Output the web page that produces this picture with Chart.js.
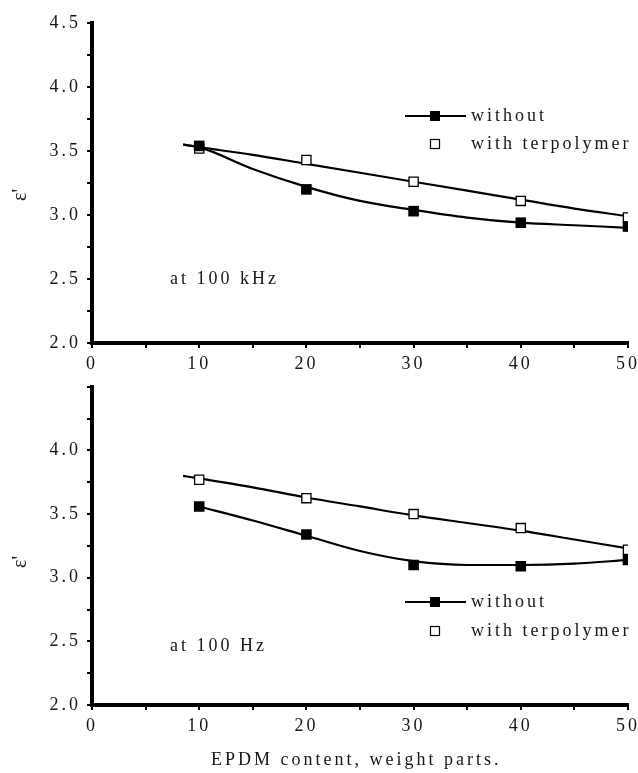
<!DOCTYPE html>
<html>
<head>
<meta charset="utf-8">
<script src="https://cdn.jsdelivr.net/npm/chart.js@4.4.1/dist/chart.umd.min.js"></script>
<style>
  body { margin: 0; background: #fff; }
  #wrap { position: relative; width: 638px; height: 773px; overflow: hidden; }
  canvas { position: absolute; left: 0; }
</style>
</head>
<body>
<div id="wrap">
  <canvas id="chartKhz" width="638" height="380" style="top:0"></canvas>
  <canvas id="chartHz" width="638" height="403" style="top:370px"></canvas>
</div>
<script>
// EPDM content (weight parts)
const contents = [10, 20, 30, 40, 50];

// at 100 kHz
const khzWithout = [3.54, 3.20, 3.03, 2.94, 2.91];
const khzWith = [3.52, 3.43, 3.26, 3.11, 2.98];
// fitted curves
const khzFitX = [8.5, 10, 15, 20, 25, 30, 35, 40, 45, 50];
const khzFitWithout = [3.55, 3.53, 3.36, 3.22, 3.11, 3.04, 2.98, 2.94, 2.92, 2.90];
const khzFitWith = [3.55, 3.53, 3.47, 3.40, 3.33, 3.26, 3.19, 3.12, 3.05, 2.99];

// at 100 Hz
const hzWithout = [3.56, 3.34, 3.10, 3.09, 3.14];
const hzWith = [3.77, 3.625, 3.50, 3.39, 3.22];
const hzFitWithoutX = [10, 15, 20, 25, 30, 35, 40, 45, 50];
const hzFitWithout = [3.56, 3.45, 3.33, 3.21, 3.13, 3.10, 3.10, 3.11, 3.14];
const hzFitWithX = [8.5, 10, 15, 20, 25, 30, 35, 40, 45, 50];
const hzFitWith = [3.80, 3.78, 3.71, 3.63, 3.56, 3.49, 3.43, 3.37, 3.30, 3.23];

const seriesNames = ["without", "with terpolymer"];
const yTitle = "\u03b5'";
const xTitle = "EPDM content, weight parts.";

const FONT = "'Liberation Serif', 'DejaVu Serif', serif";
const INK = "#161616";

function pts(xs, ys) {
  const out = [];
  for (let i = 0; i < xs.length; i++) out.push({ x: xs[i], y: ys[i] });
  return out;
}

// texts drawn straight on the canvas (legend, note, axis titles)
function textPlugin(cfg) {
  return {
    id: "texts",
    beforeDraw(chart) {
      chart.ctx.letterSpacing = "3px";
    },
    afterDraw(chart) {
      const ctx = chart.ctx;
      ctx.save();
      ctx.fillStyle = INK;
      ctx.strokeStyle = "#000";
      ctx.letterSpacing = "3px";
      ctx.font = "18px " + FONT;
      ctx.textBaseline = "middle";
      ctx.textAlign = "left";

      // legend
      ctx.lineWidth = 2;
      ctx.beginPath();
      ctx.moveTo(405, cfg.legendY1);
      ctx.lineTo(466, cfg.legendY1);
      ctx.stroke();
      ctx.fillStyle = "#000";
      ctx.fillRect(430, cfg.legendY1 - 5, 10, 10);
      ctx.fillStyle = "#fff";
      ctx.fillRect(430.5, cfg.legendY2 - 4.5, 9, 9);
      ctx.lineWidth = 1.2;
      ctx.strokeRect(430.5, cfg.legendY2 - 4.5, 9, 9);
      ctx.fillStyle = INK;
      ctx.fillText(seriesNames[0], 471, cfg.legendY1);
      ctx.fillText(seriesNames[1], 471, cfg.legendY2);

      // frequency note
      ctx.fillText(cfg.note, 170, cfg.noteY);

      // y title
      ctx.save();
      ctx.translate(21, cfg.yTitleY);
      ctx.rotate(-Math.PI / 2);
      ctx.textAlign = "center";
      ctx.letterSpacing = "0px";
      ctx.font = "20px " + FONT;
      ctx.fillText(yTitle, 0, 0);
      ctx.restore();

      if (cfg.xTitleY) {
        ctx.textAlign = "left";
        ctx.fillText(xTitle, 211, cfg.xTitleY);
      }
      ctx.restore();
    }
  };
}

function makeChart(id, cfg) {
  const ctx = document.getElementById(id).getContext("2d");
  return new Chart(ctx, {
    type: "line",
    data: {
      datasets: [
        {
          data: pts(contents, cfg.without),
          showLine: false,
          pointStyle: "rect",
          pointRadius: 7.5,
          pointBackgroundColor: "#000",
          pointBorderColor: "#000",
          pointBorderWidth: 0
        },
        {
          data: pts(contents, cfg.withT),
          showLine: false,
          pointStyle: "rect",
          pointRadius: 6.5,
          pointBackgroundColor: "#fff",
          pointBorderColor: "#000",
          pointBorderWidth: 1.3
        },
        {
          data: pts(cfg.fitWithoutX, cfg.fitWithout),
          borderColor: "#000",
          borderWidth: 2.2,
          pointRadius: 0,
          cubicInterpolationMode: "monotone"
        },
        {
          data: pts(cfg.fitWithX, cfg.fitWith),
          borderColor: "#000",
          borderWidth: 2.2,
          pointRadius: 0,
          cubicInterpolationMode: "monotone"
        }
      ]
    },
    options: {
      responsive: false,
      animation: false,
      devicePixelRatio: 1,
      layout: { padding: { top: cfg.padTop, right: 10, left: 0, bottom: 0 } },
      plugins: { legend: { display: false }, tooltip: { enabled: false } },
      scales: {
        x: {
          type: "linear",
          min: 0,
          max: 50,
          afterFit: (s) => {
            s.height = cfg.xHeight;
            s.paddingLeft = 0;
            s.paddingRight = 0;
          },
          border: { color: "#000", width: 4 },
          grid: { drawOnChartArea: false, tickLength: 5, color: "#000", lineWidth: 2 },
          ticks: {
            stepSize: 5,
            padding: 5,
            color: INK,
            font: { family: FONT, size: 18 },
            maxRotation: 0,
            autoSkip: false,
            callback: (v) => (v % 10 === 0 ? String(v) : "")
          }
        },
        y: {
          min: 2,
          max: 4.5,
          afterFit: (s) => { s.width = 92; },
          border: { color: "#000", width: 4 },
          grid: { drawOnChartArea: false, tickLength: 5, color: "#000", lineWidth: 2 },
          ticks: {
            stepSize: 0.25,
            padding: 6,
            color: INK,
            font: { family: FONT, size: 18 },
            autoSkip: false,
            callback: (v) => {
              const isMajor = Math.abs(v * 2 - Math.round(v * 2)) < 1e-6;
              if (!isMajor) return "";
              if (cfg.hideTop && v >= 4.5) return "";
              return v.toFixed(1);
            }
          }
        }
      }
    },
    plugins: [textPlugin(cfg)]
  });
}

makeChart("chartKhz", {
  without: khzWithout,
  withT: khzWith,
  fitWithoutX: khzFitX,
  fitWithout: khzFitWithout,
  fitWithX: khzFitX,
  fitWith: khzFitWith,
  padTop: 23,
  xHeight: 37,
  hideTop: false,
  legendY1: 116,
  legendY2: 144,
  note: "at 100 kHz",
  noteY: 279,
  yTitleY: 195
});

// bottom canvas starts at y = 370 of the page
makeChart("chartHz", {
  without: hzWithout,
  withT: hzWith,
  fitWithoutX: hzFitWithoutX,
  fitWithout: hzFitWithout,
  fitWithX: hzFitWithX,
  fitWith: hzFitWith,
  padTop: 14,
  xHeight: 68,
  hideTop: true,
  legendY1: 232,
  legendY2: 261,
  note: "at 100 Hz",
  noteY: 276,
  yTitleY: 192,
  xTitleY: 390
});
</script>
</body>
</html>
